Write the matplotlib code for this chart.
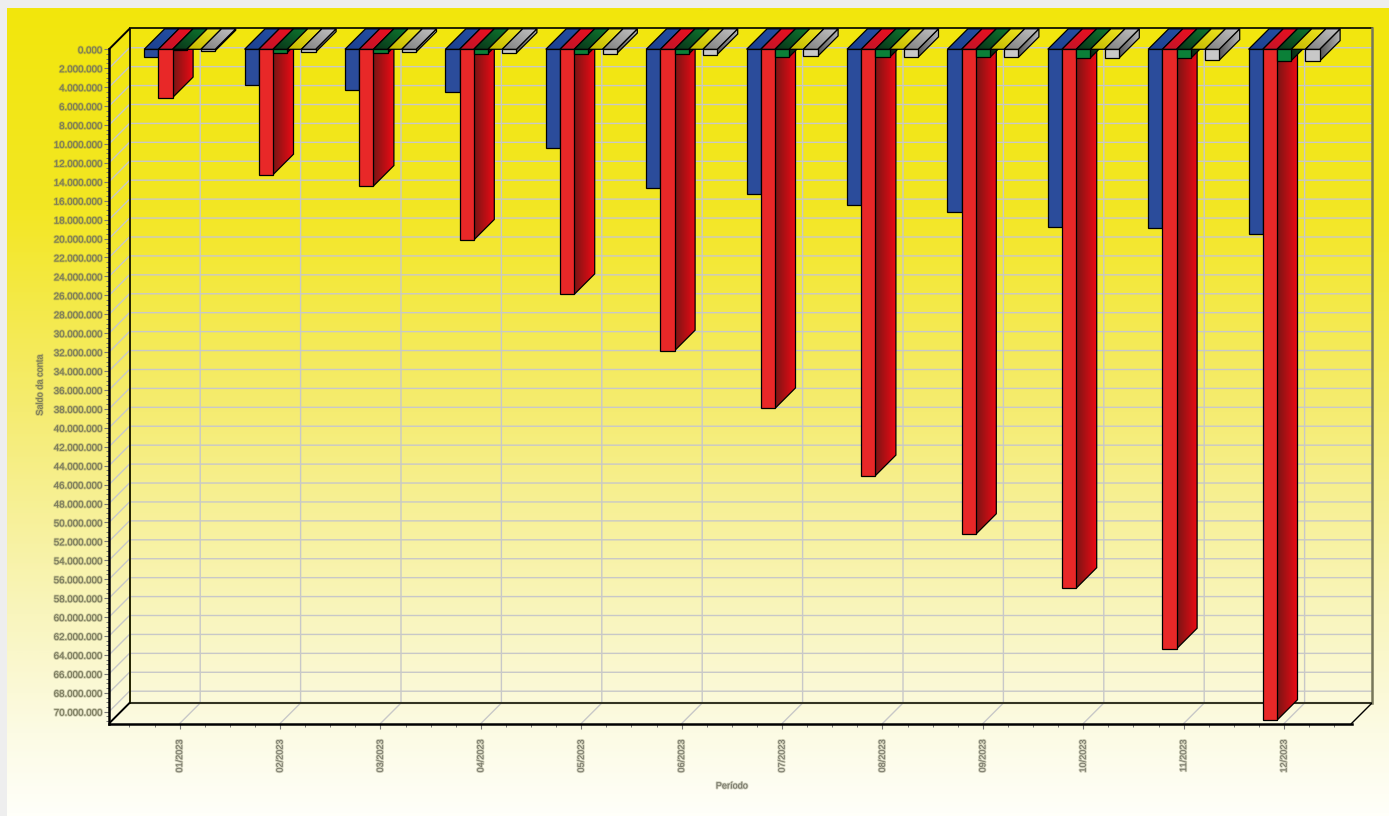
#plot.py
#Saldo da conta por periodo, barras 3D desenhadas a mao
import numpy as np
import matplotlib
matplotlib.use('Agg')
import matplotlib.pyplot as plt
import matplotlib.patheffects as pe
from matplotlib.patches import Polygon
from matplotlib.colors import LinearSegmentedColormap
from matplotlib.ticker import FixedLocator, FuncFormatter

plt.rcParams['font.family'] = ['Liberation Sans', 'DejaVu Sans']

#Data, in millions
periods = ['01/2023', '02/2023', '03/2023', '04/2023', '05/2023', '06/2023',
           '07/2023', '08/2023', '09/2023', '10/2023', '11/2023', '12/2023']
blue_vals = [0.85, 3.8, 4.3, 4.55, 10.45, 14.7, 15.25, 16.5, 17.2, 18.8, 18.9, 19.55]
red_vals = [5.1, 13.25, 14.45, 20.15, 25.9, 31.85, 37.95, 45.05, 51.25, 56.95, 63.35, 70.9]
green_vals = [0.1, 0.35, 0.4, 0.45, 0.45, 0.5, 0.8, 0.85, 0.85, 0.9, 0.95, 1.2]
yellow_vals = [0, 0, 0, 0, 0, 0, 0, 0, 0, 0, 0, 0]
gray_vals = [0.15, 0.3, 0.3, 0.4, 0.45, 0.55, 0.75, 0.85, 0.85, 0.95, 1.15, 1.25]

series = [blue_vals, red_vals, green_vals, yellow_vals, gray_vals]
#front colour, side gradient (back is light), top gradient (front, back)
front_cols = ['#2b4c9b', '#e82828', '#0b8038', '#e8dc10', '#c8c8c8']
side_cols = [('#12234f', '#2b4c9b'), ('#7a1515', '#ee0a14'), ('#0a2a14', '#0a6030'),
             ('#c8bc00', '#efe41a'), ('#555555', '#b8b8b8')]
top_cols = [('#1c4090', '#2450a4'), ('#c01428', '#ee1020'), ('#0a3318', '#0d7a30'),
            ('#c4b800', '#f2e820'), ('#808080', '#c4c4c4')]

W, H = 1389, 816
fig = plt.figure(figsize=(W / 100, H / 100), dpi=100, facecolor='#eeeeee')

#Background gradient
bg = fig.add_axes([7 / W, 0, 1 - 7 / W, 1 - 8 / H])
bg_cmap = LinearSegmentedColormap.from_list('bg', [(0, '#f2e60c'), (0.25, '#f3e724'), (0.5, '#f5ec72'),
                                                   (0.75, '#f9f5bd'), (0.9, '#fcfbe4'), (1, '#fffff9')])
bg.imshow(np.linspace(0, 1, 400)[:, None], cmap=bg_cmap, aspect='auto')
bg.axis('off')

#Main axes: holds the front plane plus the depth offset up and to the right
left, right, top, bottom = 109, 1372, 28, 723.5
ax = fig.add_axes([left / W, (H - bottom) / H, (right - left) / W, (bottom - top) / H])
ax.patch.set_alpha(0)
px_x = 100.4      #pixels per category
px_y = 9.463      #pixels per million
depth = 20.5
xmin = 1 - (179.7 - left) / px_x
xmax = xmin + (right - left) / px_x
ymin = -(49.3 - top) / px_y
ymax = ymin + (bottom - top) / px_y
dx = depth / px_x
dy = depth / px_y
floor = ymax
front_right = xmax - dx

#Back wall, side wall and floor grid
for v in np.arange(2, 71, 2):
    ax.plot([xmin, xmin + dx, xmax], [v, v - dy, v - dy], color='#c8c8c8', lw=1, zorder=1)
for i in range(1, len(periods) + 1):
    ax.plot([i, i + dx, i + dx], [floor, floor - dy, ymin], color='#c8c8c8', lw=1, zorder=1)
ax.plot([xmin + dx, xmax], [ymin, ymin], color='#222200', lw=1.4, zorder=1.5, clip_on=False)
ax.plot([xmin + dx, xmax], [floor - dy, floor - dy], color='#333322', lw=1.5, zorder=1.5)
ax.plot([xmin + dx, xmin + dx], [ymin, floor - dy], color='#222200', lw=1.4, zorder=1.5)
ax.plot([xmax, xmax], [ymin, floor - dy], color='#77775a', lw=1.8, zorder=1.5, clip_on=False)
ax.plot([xmin, xmin + dx], [0, -dy], color='black', lw=1.4, zorder=1.5, clip_on=False)
ax.plot([xmin, xmin + dx], [floor, floor - dy], color='black', lw=1.4, zorder=1.5)
ax.plot([front_right, xmax], [floor, floor - dy], color='black', lw=1, zorder=1.5)


def gradient_face(pts, cols, extent, mode, z):
    #Gradient image clipped to a polygon with a black edge
    face = Polygon(pts, closed=True, facecolor='none', edgecolor='black', lw=0.9, zorder=z + 0.1)
    ax.add_patch(face)
    cmap = LinearSegmentedColormap.from_list('f', cols)
    t = np.linspace(0, 1, 64)
    if mode == 'side':
        grad = t[None, :]
    else:
        grad = (t[None, :] + t[:, None]) / 2
    im = ax.imshow(grad, cmap=cmap, aspect='auto', extent=extent, origin='lower', zorder=z)
    im.set_clip_path(face)


bar_w = 14.2 / px_x
z = 3
for i in range(len(periods)):
    for j, vals in enumerate(series):
        v = vals[i]
        x0 = i + 1 + (j - 2.5) * bar_w
        x1 = x0 + bar_w
        if v > 0:
            #side face
            gradient_face([(x1, 0), (x1 + dx, -dy), (x1 + dx, v - dy), (x1, v)], side_cols[j],
                          (x1, x1 + dx, v, -dy), 'side', z)
            z += 1
            #front face
            ax.add_patch(Polygon([(x0, 0), (x1, 0), (x1, v), (x0, v)], closed=True, facecolor=front_cols[j],
                                 edgecolor='black', lw=0.9, zorder=z))
            z += 1
        #top face
        gradient_face([(x0, 0), (x1, 0), (x1 + dx, -dy), (x0 + dx, -dy)], top_cols[j],
                      (x0, x1 + dx, 0, -dy), 'top', z)
        z += 1

ax.set_xlim(xmin, xmax)
ax.set_ylim(ymax, ymin)

#Axes, ticks and labels
for s in ['top', 'right']:
    ax.spines[s].set_visible(False)
ax.spines['left'].set_bounds(0, floor)
ax.spines['bottom'].set_bounds(xmin, front_right)
ax.spines['left'].set_linewidth(1.8)
ax.spines['bottom'].set_linewidth(1.8)

ax.set_xticks(range(1, len(periods) + 1))
ax.set_xticklabels(periods, rotation=90, fontsize=6.6, color='#77776a')
ax.xaxis.set_minor_locator(FixedLocator(np.arange(0.5, 12.75, 0.25)))
ax.tick_params(axis='x', which='major', length=3.5, width=0.8, color='#777777', pad=8)
ax.tick_params(axis='x', which='minor', length=2, width=0.7, color='#777777')

ax.set_yticks(np.arange(0, 71, 2))
ax.yaxis.set_major_formatter(FuncFormatter(lambda v, p: '0.000' if v == 0 else f'{int(v)}.000.000'))
ax.yaxis.set_minor_locator(FixedLocator(np.arange(0, 71.25, 0.5)))
ax.tick_params(axis='y', which='major', length=3.5, width=0.8, color='#777777', labelsize=7,
               labelcolor='#77775a', pad=1.5)
ax.tick_params(axis='y', which='minor', length=2, width=0.7, color='#777777')
ax.set_xlim(xmin, xmax)
ax.set_ylim(ymax, ymin)

#The reference text is soft, a faint stroke gets near that
soft = [pe.withStroke(linewidth=1.3, foreground='#77775a', alpha=0.35)]
for t in ax.get_xticklabels() + ax.get_yticklabels():
    t.set_path_effects(soft)
fig.text(732 / W, 1 - 786 / H, 'Período', fontsize=6.6, color='#77776a', ha='center', va='center',
         path_effects=soft)
fig.text(40 / W, 1 - 385 / H, 'Saldo da conta', fontsize=6.6, color='#77775a', rotation=90,
         ha='center', va='center', path_effects=soft)

fig.savefig('out.png', dpi=100, facecolor=fig.get_facecolor())
